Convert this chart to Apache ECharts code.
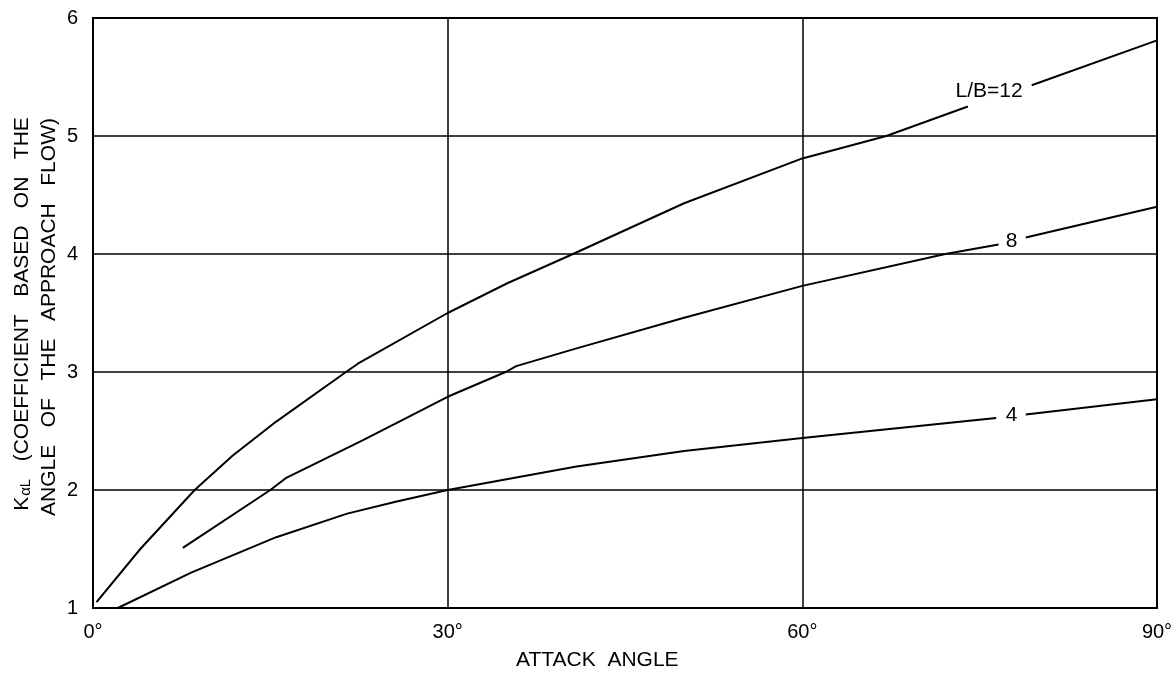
<!DOCTYPE html>
<html>
<head>
<meta charset="utf-8">
<script src="https://cdn.jsdelivr.net/npm/echarts@6/dist/echarts.min.js"></script>
<style>
html,body{margin:0;padding:0;background:#fff;}
#chart{width:1176px;height:677px;}
</style>
</head>
<body>
<div id="chart"></div>
<script>
// Attack angle (degrees) and K values per L/B curve; null = gap where label sits
const lb12Angle = [0.3, 4, 8.6, 11.8, 15.5, 21.4, 22.4, 30, 35, 40.6, 50, 60, 67.1, 74.0, null, 79.4, 90];
const lb12Value = [1.05, 1.5, 2.0, 2.29, 2.58, 3.0, 3.07, 3.5, 3.75, 4.0, 4.43, 4.81, 5.0, 5.25, null, 5.43, 5.81];

const lb8Angle = [7.6, 15.0, 16.3, 22.8, 30, 34.9, 35.8, 40.9, 50, 60, 72.1, 76.6, null, 78.9, 90];
const lb8Value = [1.51, 2.0, 2.1, 2.42, 2.79, 3.0, 3.05, 3.2, 3.46, 3.73, 4.0, 4.08, null, 4.14, 4.4];

const lb4Angle = [2.1, 8.3, 15.5, 21.5, 25.6, 30, 40.9, 50, 60, 76.4, null, 78.9, 90];
const lb4Value = [1.0, 1.3, 1.6, 1.8, 1.9, 2.0, 2.2, 2.33, 2.44, 2.61, null, 2.64, 2.77];

const curveLabels = ['L/B=12', '8', '4'];
const labelAngles = [75.8, 77.7, 77.7];
const labelValues = [5.38, 4.11, 2.63];

const xTicks = [0, 30, 60, 90];
const yTicks = [1, 2, 3, 4, 5, 6];

const xTitle = 'ATTACK  ANGLE';
const yTitle1 = '{k|K}{s|αL}   (COEFFICIENT   BASED   ON   THE';
const yTitle2 = 'ANGLE   OF   THE   APPROACH   FLOW)';

function pairs(xs, ys) {
  return xs.map((x, i) => (x === null ? [null, null] : [x, ys[i]]));
}

const FONT = 'Liberation Sans, Arial, Helvetica, sans-serif';
const chart = echarts.init(document.getElementById('chart'));

function mkSeries(name, xs, ys, idx) {
  return {
    name: name,
    type: 'line',
    data: pairs(xs, ys).map(p => (p[0] === null ? '-' : p)),
    connectNulls: false,
    showSymbol: false,
    symbol: 'none',
    lineStyle: { color: '#000', width: 2 },
    silent: true,
    animation: false,
    markPoint: {
      symbol: 'circle',
      symbolSize: 0,
      silent: true,
      animation: false,
      label: {
        show: true,
        position: 'inside',
        formatter: curveLabels[idx],
        color: '#000',
        fontFamily: FONT,
        fontSize: 21
      },
      data: [{ coord: [labelAngles[idx], labelValues[idx]] }]
    }
  };
}

chart.setOption({
  animation: false,
  backgroundColor: '#fff',
  grid: {
    left: 93, right: 19, top: 18, bottom: 69,
    show: true, borderColor: '#000', borderWidth: 2, containLabel: false
  },
  xAxis: {
    type: 'value',
    min: 0, max: 90, interval: 30,
    axisLine: { show: true, lineStyle: { color: '#000', width: 2 } },
    axisTick: { show: false },
    axisLabel: {
      color: '#000', fontFamily: FONT, fontSize: 20, margin: 14,
      formatter: v => (xTicks.indexOf(v) >= 0 ? v + '°' : '')
    },
    splitLine: { show: true, lineStyle: { color: '#000', width: 1.5 } }
  },
  yAxis: {
    type: 'value',
    min: 1, max: 6, interval: 1,
    axisLine: { show: true, lineStyle: { color: '#000', width: 2 } },
    axisTick: { show: false },
    axisLabel: {
      color: '#000', fontFamily: FONT, fontSize: 20, margin: 15,
      formatter: v => (yTicks.indexOf(v) >= 0 ? String(v) : '')
    },
    splitLine: { show: true, lineStyle: { color: '#000', width: 1.5 } }
  },
  series: [
    mkSeries('L/B=12', lb12Angle, lb12Value, 0),
    mkSeries('L/B=8', lb8Angle, lb8Value, 1),
    mkSeries('L/B=4', lb4Angle, lb4Value, 2)
  ],
  graphic: [
    {
      type: 'text', left: 516, top: 650,
      style: { text: xTitle, fill: '#000', font: '21px ' + FONT }
    },
    {
      type: 'text', x: 22, y: 314, rotation: Math.PI / 2,
      style: {
        text: yTitle1, fill: '#000', align: 'center', verticalAlign: 'middle',
        font: '21px ' + FONT,
        rich: {
          k: { fontSize: 21, fontFamily: FONT, fill: '#000' },
          s: { fontSize: 15, fontFamily: FONT, fill: '#000', padding: [8, 0, 0, 1] }
        }
      }
    },
    {
      type: 'text', x: 49, y: 317, rotation: Math.PI / 2,
      style: {
        text: yTitle2, fill: '#000', align: 'center', verticalAlign: 'middle',
        font: '21px ' + FONT
      }
    }
  ]
});
</script>
</body>
</html>
